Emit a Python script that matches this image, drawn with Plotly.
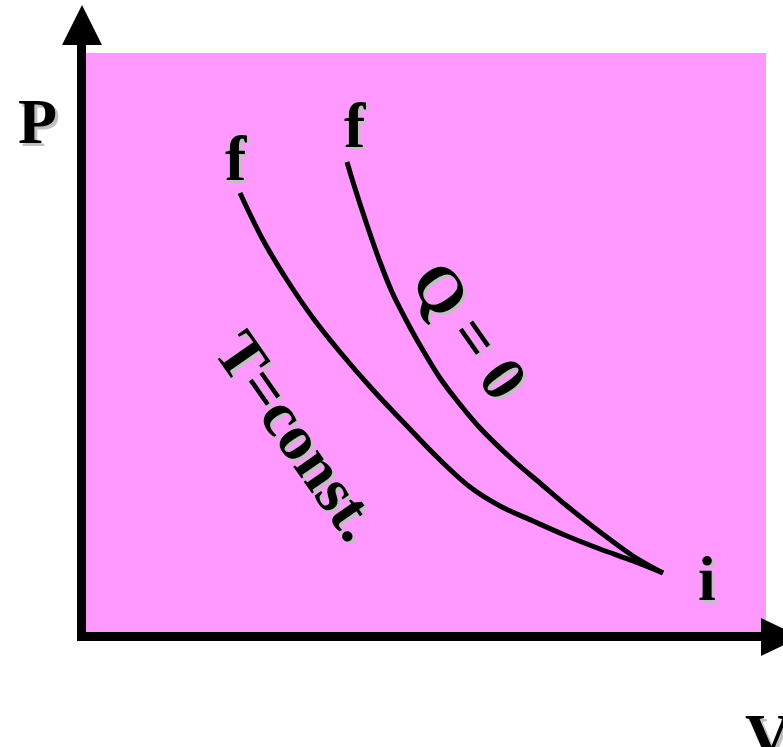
import plotly.graph_objects as go

# Schematic P-V diagram (coordinates in page pixels, y measured downward)
iso_x = [240, 263, 287, 313, 340, 373, 407, 437, 470, 500, 533, 567, 600, 633, 663]
iso_y = [193, 240, 280, 318, 352, 390, 426, 457, 487, 506, 521, 536, 549, 561, 573]
adi_x = [347, 353, 367, 380, 392, 405, 417, 440, 455, 480, 513, 540, 567, 600, 633, 663]
adi_y = [162, 182, 225, 262, 292, 318, 340, 378, 398, 428, 460, 483, 506, 532, 556, 573]

label_text = ["P", "V", "f", "f", "i", "Q = 0", "T=const."]
label_x = [37, 768, 236, 355, 707, 470, 298]
label_y = [121, 736, 158, 125, 578, 330, 435]
label_angle = [0, 0, 0, 0, 0, 55, 55]

FONT = "Liberation Serif"
W, H = 783, 747

fig = go.Figure()
for xs, ys in [(iso_x, iso_y), (adi_x, adi_y)]:
    fig.add_trace(go.Scatter(x=xs, y=ys, mode="lines",
                             line=dict(color="black", width=5, shape="spline",
                                       smoothing=1.0),
                             hoverinfo="skip", showlegend=False))

shapes = [
    dict(type="rect", x0=86, x1=766, y0=53, y1=632, fillcolor="#FF99FF",
         line=dict(width=0), layer="below"),
    dict(type="rect", x0=77, x1=86, y0=40, y1=641, fillcolor="black",
         line=dict(width=0)),
    dict(type="path", path="M 62,45 L 102,45 L 82,5 Z", fillcolor="black",
         line=dict(width=0)),
    dict(type="rect", x0=77, x1=765, y0=632, y1=641, fillcolor="black",
         line=dict(width=0)),
    dict(type="path", path="M 761,618 L 761,656 L 801,637 Z", fillcolor="black",
         line=dict(width=0)),
]

annotations = []
for t, x, y, a in zip(label_text, label_x, label_y, label_angle):
    for dx, col in [(3, "#C0C0C0"), (0, "black")]:
        annotations.append(dict(x=x + dx, y=y + dx, text="<b>%s</b>" % t,
                                showarrow=False, textangle=a,
                                xanchor="center", yanchor="middle",
                                font=dict(family=FONT, size=64, color=col)))

fig.update_layout(
    width=W, height=H, margin=dict(l=0, r=0, t=0, b=0),
    paper_bgcolor="white", plot_bgcolor="white",
    xaxis=dict(range=[0, W], visible=False, fixedrange=True),
    yaxis=dict(range=[H, 0], visible=False, fixedrange=True),
    shapes=shapes, annotations=annotations, showlegend=False,
)
fig.write_html("out.html", config={"displayModeBar": False},
               post_script="document.body.style.margin='0';"
                           "document.body.style.overflow='hidden';")
